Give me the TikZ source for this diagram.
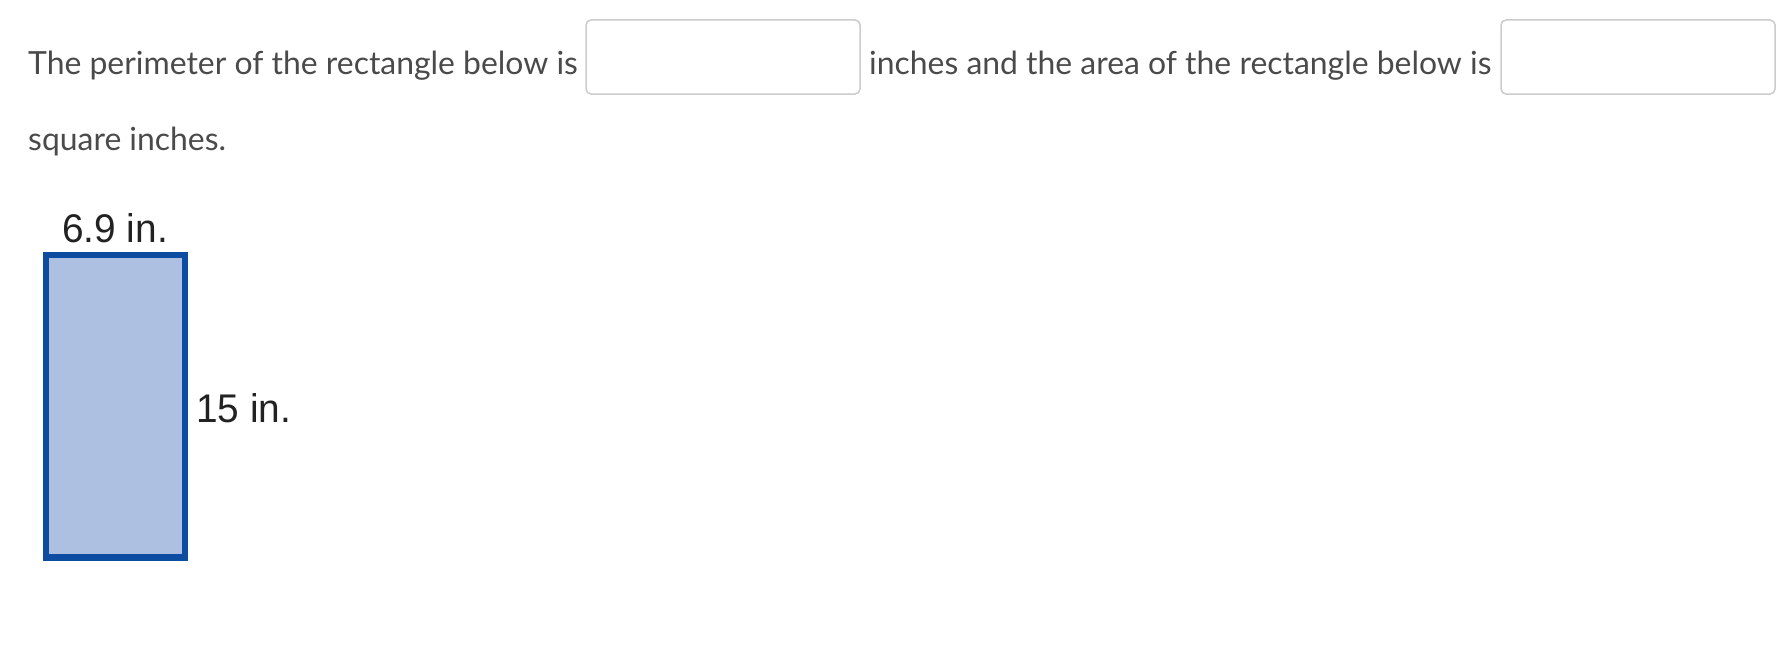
\documentclass[tikz,border=0pt]{standalone}
\usepackage{fontspec}
\setmainfont{Lato}
\newfontfamily\labelfont[FakeStretch=0.97]{Liberation Sans}
\definecolor{txtgray}{HTML}{4A4A4A}
\definecolor{boxgray}{HTML}{CCCCCC}
\definecolor{rectfill}{HTML}{AEC0E1}
\definecolor{rectline}{HTML}{0D4DA1}
\definecolor{labelblack}{HTML}{222222}
\tikzset{
  qtext/.style={anchor=base west, inner sep=0pt, text=txtgray, font=\fontsize{31.9}{36}\selectfont},
  ansbox/.style={draw=boxgray, line width=1.5pt, rounded corners=5pt, fill=white},
  dimlabel/.style={anchor=base west, inner sep=0pt, text=labelblack, font=\labelfont\fontsize{40}{44}\selectfont},
  rectshape/.style={draw=rectline, fill=rectfill, line width=6.5pt}
}
\begin{document}
\begin{tikzpicture}[x=1pt,y=-1pt]
\useasboundingbox (0,0) rectangle (1791,669);
\node[qtext] (t1) at (28,74.3) {The perimeter of the rectangle below is};
\draw[ansbox] (586,20) rectangle (860,94);
\coordinate (b1) at (723,57);
\node[qtext] (t2) at (869,74.3) {inches and the area of the rectangle below is};
\draw[ansbox] (1501,20) rectangle (1775,94);
\coordinate (b2) at (1638,57);
\node[qtext] (t3) at (28,150.8) {square inches.};
\draw[rectshape] (46,255) rectangle (185,557.5);
\coordinate (r) at (115,406);
\node[dimlabel] (w) at (62,242.7) {6.9 in.};
\node[dimlabel] (h) at (196,422.7) {15 in.};
\end{tikzpicture}
\end{document}
